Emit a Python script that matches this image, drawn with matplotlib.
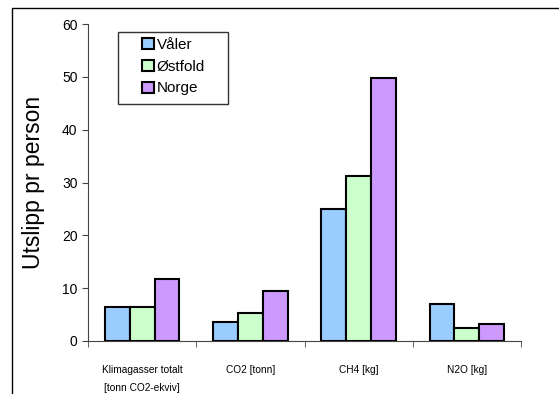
import numpy as np
import matplotlib
matplotlib.use('Agg')
from matplotlib import pyplot
from matplotlib.patches import Rectangle

pyplot.rcParams['font.family'] = ['Liberation Sans', 'DejaVu Sans']

categories = ['Klimagasser totalt\n[tonn CO2-ekviv]', 'CO2 [tonn]', 'CH4 [kg]', 'N2O [kg]']
series = ['Våler', 'Østfold', 'Norge']
valer = [6.5, 3.6, 25.0, 7.0]
ostfold = [6.5, 5.3, 31.2, 2.45]
norge = [11.8, 9.4, 49.7, 3.3]
colors = ['#99CCFF', '#CCFFCC', '#CC99FF']

fig = pyplot.figure(figsize=(5.59, 3.94), dpi=100)
# outer chart frame
fig.patches.append(Rectangle((12 / 559, -0.05), 1.2, (394 - 8) / 394 + 0.05,
                             transform=fig.transFigure, fill=False,
                             edgecolor='#000000', linewidth=1.0))

ax = fig.add_axes([88 / 559, 53 / 394, 433 / 559, 317 / 394])
x = np.arange(len(categories))
width = 0.23
for i, (name, vals) in enumerate(zip(series, [valer, ostfold, norge])):
    ax.bar(x + (i - 1) * width, vals, width, label=name,
           color=colors[i], edgecolor='black', linewidth=1.5, zorder=3)

ax.set_xlim(-0.5, len(categories) - 0.5)
ax.set_ylim(0, 60)
ax.set_yticks(range(0, 61, 10))
ax.set_xticks(x)
ax.set_xticklabels(categories, fontsize=7.3, linespacing=2.0)
ax.set_xticks(np.arange(-0.5, len(categories)), minor=True)
ax.tick_params(axis='x', which='major', length=0, pad=17)
ax.tick_params(axis='x', which='minor', length=4, direction='out', color='#444444')
ax.tick_params(axis='y', length=4, direction='out', labelsize=10, color='#444444')
for side in ['top', 'right']:
    ax.spines[side].set_visible(False)
for side in ['left', 'bottom']:
    ax.spines[side].set_color('#444444')
ax.set_ylabel('Utslipp pr person', fontsize=16.5, labelpad=12)

# legend box drawn separately to get the wide side padding
ax.add_patch(Rectangle((0.069, 0.748), 0.254, 0.227, transform=ax.transAxes,
                       facecolor='white', edgecolor='#333333', linewidth=1.0,
                       zorder=4))
leg = ax.legend(loc='upper left', bbox_to_anchor=(0.118, 0.965), fontsize=11,
                frameon=False, handlelength=0.75, handleheight=0.75,
                handletextpad=0.2, borderpad=0.2, labelspacing=0.5,
                borderaxespad=0)
leg.set_zorder(5)

pyplot.savefig('out.png', dpi=100)
